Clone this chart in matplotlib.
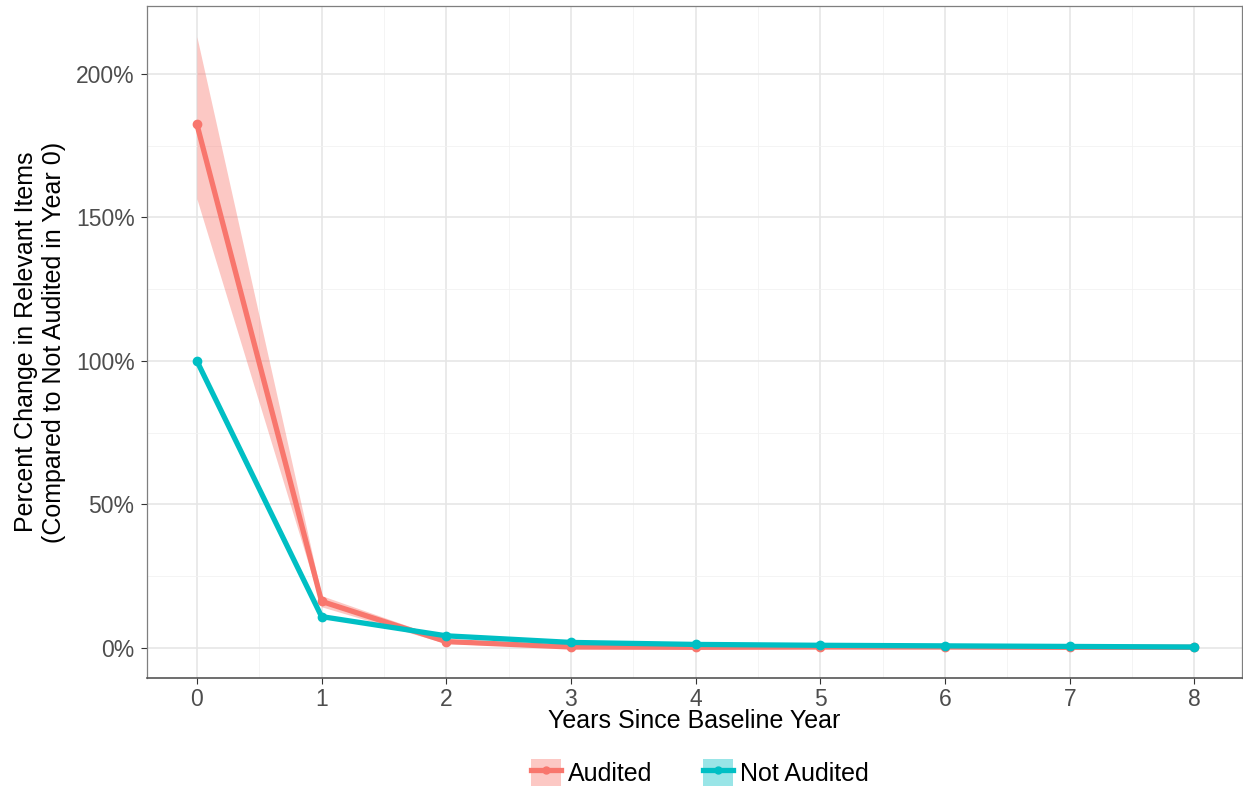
import numpy as np
import matplotlib
matplotlib.use('Agg')
import matplotlib.pyplot as plt
from matplotlib.patches import Patch
from matplotlib.lines import Line2D
from matplotlib.ticker import FuncFormatter, MultipleLocator

plt.rcParams['font.family'] = ['Liberation Sans', 'DejaVu Sans']

# ---- data (percent change) ----
years = [0, 1, 2, 3, 4, 5, 6, 7, 8]
audited = [182.5, 16.2, 2.2, 0.3, 0.2, 0.3, 0.3, 0.2, 0.2]
audited_lo = [156.5, 14.3, 1.5, 0.0, -0.1, 0.0, 0.0, -0.1, -0.1]
audited_hi = [213.0, 18.2, 3.0, 0.6, 0.5, 0.6, 0.6, 0.5, 0.5]
not_audited = [100.0, 10.9, 4.2, 1.9, 1.2, 0.9, 0.7, 0.5, 0.3]

RED = '#F8766D'
TEAL = '#00BFC4'

fig = plt.figure(figsize=(12.43, 7.9), dpi=100)
ax = fig.add_axes([147/1243, 1 - 678/790, (1243-147)/1243 - 0.001, (678-6)/790])

ax.fill_between(years, audited_lo, audited_hi, color=RED, alpha=0.4, lw=0, zorder=2)
ax.plot(years, audited, color=RED, lw=3.8, marker='o', ms=6, zorder=3, solid_capstyle='butt')
ax.plot(years, not_audited, color=TEAL, lw=3.8, marker='o', ms=6, zorder=4, solid_capstyle='butt')

ax.set_xlim(-0.4, 8.38)
ax.set_ylim(-10.5, 223.7)
ax.xaxis.set_major_locator(MultipleLocator(1))
ax.xaxis.set_minor_locator(MultipleLocator(0.5))
ax.yaxis.set_major_locator(MultipleLocator(50))
ax.yaxis.set_minor_locator(MultipleLocator(25))
ax.yaxis.set_major_formatter(FuncFormatter(lambda v, p: f'{v:.0f}%'))
ax.grid(which='major', color='#E6E6E6', lw=1.2, zorder=0)
ax.grid(which='minor', color='#F2F2F2', lw=0.6, zorder=0)
ax.set_axisbelow(True)
ax.tick_params(which='minor', length=0)
ax.tick_params(which='major', length=4, color='#333333', labelsize=16.5, labelcolor='#4D4D4D', pad=5)
ax.tick_params(axis='x', pad=3)
for s in ['top', 'right', 'left']:
    ax.spines[s].set_color('#7F7F7F')
    ax.spines[s].set_linewidth(0.9)
ax.spines['bottom'].set_color('#555555')
ax.spines['bottom'].set_linewidth(1.2)

ax.set_xlabel('Years Since Baseline Year', fontsize=18, labelpad=-1)
ax.set_ylabel('Percent Change in Relevant Items\n(Compared to Not Audited in Year 0)', fontsize=18, labelpad=7)

h1 = (Patch(facecolor=RED, alpha=0.4, lw=0), Line2D([], [], color=RED, lw=3.8, marker='o', ms=5))
h2 = (Patch(facecolor=TEAL, alpha=0.4, lw=0), Line2D([], [], color=TEAL, lw=3.8, marker='o', ms=5))
fig.legend([h1, h2], ['Audited', 'Not Audited'], loc='center', bbox_to_anchor=(0.563, 0.022),
           ncol=2, frameon=False, fontsize=18, handlelength=1.2, handleheight=1.3,
           columnspacing=2.0, handletextpad=0.3)

plt.savefig('out.png', dpi=100)
